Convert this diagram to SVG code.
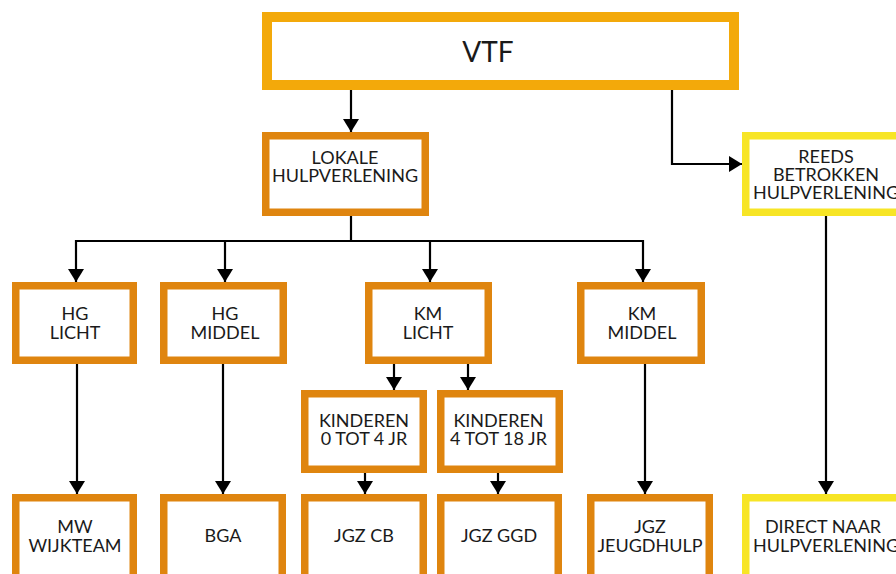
<svg xmlns="http://www.w3.org/2000/svg" width="896" height="574" viewBox="0 0 896 574">
<defs>
<marker id="ah" markerUnits="userSpaceOnUse" viewBox="0 0 13 16" refX="13" refY="8" markerWidth="13" markerHeight="16" orient="auto">
<path d="M0,0 L13,8 L0,16 z" fill="#000"/>
</marker>
</defs>
<style>
.o{fill:#fff;stroke:#df850f;stroke-width:7.5}
.y{fill:#fff;stroke:#f7e526;stroke-width:7.5}
.v{fill:#fff;stroke:#f3a90a;stroke-width:10}
text{font-family:Lato,"Open Sans","Liberation Sans",sans-serif;font-size:18px;fill:#1a1a1a;text-anchor:middle}
.c{fill:none;stroke:#000;stroke-width:2.2}
.a{marker-end:url(#ah)}
</style>
<rect width="896" height="574" fill="#fff"/>
<g id="connectors">
<path class="c a" d="M351,90 V132"/>
<path class="c a" d="M672,90 V164 H742"/>
<path class="c" d="M351,216 V241"/>
<path class="c" d="M76,241 H644"/>
<path class="c a" d="M76,240 V282"/>
<path class="c a" d="M225,241 V282"/>
<path class="c a" d="M430,241 V282"/>
<path class="c a" d="M643,240 V282"/>
<path class="c a" d="M77,364 V494"/>
<path class="c a" d="M223,364 V494"/>
<path class="c a" d="M394,364 V390"/>
<path class="c a" d="M468,364 V390"/>
<path class="c a" d="M365,473 V494"/>
<path class="c a" d="M498,473 V494"/>
<path class="c a" d="M645,364 V494"/>
<path class="c a" d="M826,216 V494"/>
</g>
<g id="vtf"><rect class="v" x="267" y="17" width="467" height="68"/><text x="488" y="62" style="font-size:28px">VTF</text></g>
<g id="lokale"><rect class="o" x="265.75" y="135.75" width="159.5" height="76.5"/><text x="345" y="164">LOKALE</text><text x="345" y="182">HULPVERLENING</text></g>
<g id="reeds"><rect class="y" x="745.75" y="135.75" width="160" height="76.5"/><text x="826" y="163">REEDS</text><text x="826" y="181">BETROKKEN</text><text x="826" y="199">HULPVERLENING</text></g>
<g id="hglicht"><rect class="o" x="15.75" y="285.75" width="117.5" height="74.5"/><text x="75" y="320">HG</text><text x="75" y="339">LICHT</text></g>
<g id="hgmiddel"><rect class="o" x="163.75" y="285.75" width="119.5" height="74.5"/><text x="225" y="320">HG</text><text x="225" y="339">MIDDEL</text></g>
<g id="kmlicht"><rect class="o" x="368.75" y="285.75" width="119.5" height="74.5"/><text x="428" y="320">KM</text><text x="428" y="339">LICHT</text></g>
<g id="kmmiddel"><rect class="o" x="580.75" y="285.75" width="120.5" height="74.5"/><text x="642" y="320">KM</text><text x="642" y="339">MIDDEL</text></g>
<g id="kind04"><rect class="o" x="304.75" y="393.75" width="118.5" height="75.5"/><text x="364" y="427">KINDEREN</text><text x="364" y="445">0 TOT 4 JR</text></g>
<g id="kind418"><rect class="o" x="440.75" y="393.75" width="118.5" height="75.5"/><text x="498.5" y="427">KINDEREN</text><text x="498.5" y="445">4 TOT 18 JR</text></g>
<g id="mw"><rect class="o" x="15.75" y="497.75" width="117.5" height="100"/><text x="75" y="533">MW</text><text x="75" y="552">WIJKTEAM</text></g>
<g id="bga"><rect class="o" x="163.75" y="497.75" width="118.5" height="100"/><text x="223" y="542">BGA</text></g>
<g id="jgzcb"><rect class="o" x="304.75" y="497.75" width="118.5" height="100"/><text x="364" y="542">JGZ CB</text></g>
<g id="jgzggd"><rect class="o" x="440.75" y="497.75" width="117.5" height="100"/><text x="499" y="542">JGZ GGD</text></g>
<g id="jgzjeugd"><rect class="o" x="590.75" y="497.75" width="118.5" height="100"/><text x="650" y="533">JGZ</text><text x="650" y="552">JEUGDHULP</text></g>
<g id="direct"><rect class="y" x="745.75" y="497.75" width="160" height="100"/><text x="823" y="533">DIRECT NAAR</text><text x="826" y="552">HULPVERLENING</text></g>
</svg>
